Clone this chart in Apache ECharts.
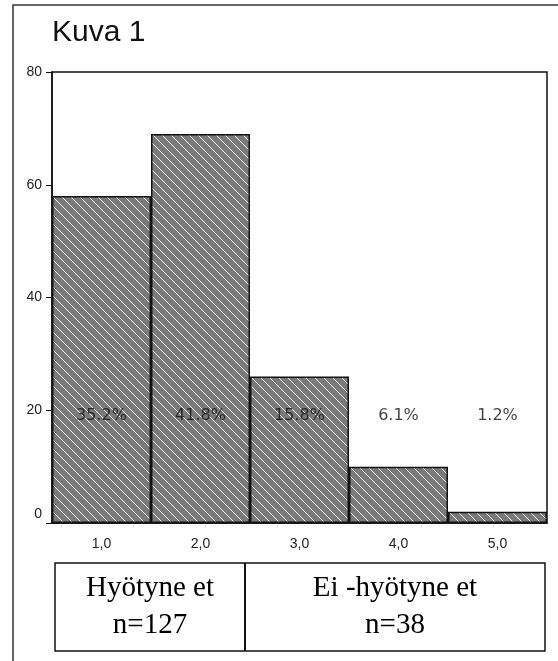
<!DOCTYPE html>
<html>
<head>
<meta charset="utf-8">
<script src="https://cdn.jsdelivr.net/npm/echarts@6/dist/echarts.min.js"></script>
<style>
  html, body { margin: 0; padding: 0; background: #fff; }
  #chart { width: 558px; height: 661px; }
</style>
</head>
<body>
<div id="chart"></div>
<script>
// data
const categories = ['1,0', '2,0', '3,0', '4,0', '5,0']
const counts = [58, 69, 26, 10, 2]
const pctLabels = ['35.2%', '41.8%', '15.8%', '6.1%', '1.2%']
const pctLabelLevel = 19 // height on the y scale where the % labels sit
const groupNames = ['Hyötyne et', 'Ei -hyötyne et']
const groupSizes = ['n=127', 'n=38']

// hatch pattern: grey with thin white "\" stripes
function makeHatch() {
  const s = 9
  const c = document.createElement('canvas')
  c.width = s
  c.height = s
  const ctx = c.getContext('2d')
  ctx.fillStyle = '#7a7a7a'
  ctx.fillRect(0, 0, s, s)
  ctx.fillStyle = '#f6f6f6'
  for (let i = 0; i < s; i++) ctx.fillRect(i, i, 1, 1)
  return c
}

const chart = echarts.init(document.getElementById('chart'))

const gridLeft = 52, gridRight = 11, gridTop = 72, gridBottom = 138
const boxTop = 563, boxBottom = 651, boxLeft = 55, boxRight = 545, boxSplit = 245

const option = {
  animation: false,
  backgroundColor: '#fff',
  grid: {
    left: gridLeft, right: gridRight, top: gridTop, bottom: gridBottom,
    show: true, borderColor: '#111', borderWidth: 1.5, backgroundColor: 'transparent'
  },
  xAxis: {
    type: 'category',
    data: categories,
    axisLine: { lineStyle: { color: '#111', width: 1.5 } },
    axisTick: { alignWithLabel: true, length: 5, lineStyle: { color: '#111' } },
    axisLabel: { color: '#222', fontFamily: 'Liberation Sans', fontSize: 14, margin: 14 }
  },
  yAxis: {
    type: 'value',
    min: 0, max: 80, interval: 20,
    splitLine: { show: false },
    axisLine: { show: true, lineStyle: { color: '#111', width: 1.5 } },
    axisTick: { show: true, length: 6, lineStyle: { color: '#111' } },
    axisLabel: {
      color: '#222', fontFamily: 'Liberation Sans', fontSize: 14, margin: 10,
      formatter: v => v === 0 ? '{z|0}' : String(v),
      rich: { z: { fontFamily: 'Liberation Sans', fontSize: 14, color: '#222', padding: [0, 0, 18, 0] } }
    }
  },
  series: [
    {
      type: 'bar',
      data: counts,
      barCategoryGap: 0,
      itemStyle: {
        color: { image: makeHatch(), repeat: 'repeat' },
        borderColor: '#111',
        borderWidth: 1.5
      }
    },
    {
      type: 'scatter',
      data: categories.map(c => [c, pctLabelLevel]),
      symbolSize: 0,
      silent: true,
      label: {
        show: true,
        position: 'inside',
        formatter: p => pctLabels[p.dataIndex],
        color: '#111',
        fontFamily: 'DejaVu Sans',
        fontSize: 16
      }
    }
  ],
  graphic: [
    // outer frame
    { type: 'rect', shape: { x: 13, y: 5, width: 600, height: 700 },
      style: { fill: 'none', stroke: '#333', lineWidth: 1.5 } },
    { type: 'text', x: 52, y: 33,
      style: { text: 'Kuva 1', verticalAlign: 'middle', fontFamily: 'Liberation Sans', fontSize: 30, fill: '#111' } },
    // group table under the axis
    { type: 'rect', shape: { x: boxLeft, y: boxTop, width: boxRight - boxLeft, height: boxBottom - boxTop },
      style: { fill: 'none', stroke: '#111', lineWidth: 1.5 } },
    { type: 'line', shape: { x1: boxSplit, y1: boxTop, x2: boxSplit, y2: boxBottom },
      style: { stroke: '#111', lineWidth: 2 } },
    { type: 'text', x: (boxLeft + boxSplit) / 2, y: (boxTop + boxBottom) / 2,
      style: { text: groupNames[0] + '\n' + groupSizes[0], align: 'center', verticalAlign: 'middle',
        fontFamily: 'Liberation Serif', fontSize: 29, lineHeight: 37, fill: '#000' } },
    { type: 'text', x: (boxSplit + boxRight) / 2, y: (boxTop + boxBottom) / 2,
      style: { text: groupNames[1] + '\n' + groupSizes[1], align: 'center', verticalAlign: 'middle',
        fontFamily: 'Liberation Serif', fontSize: 29, lineHeight: 37, fill: '#000' } }
  ]
}

chart.setOption(option)
</script>
</body>
</html>
